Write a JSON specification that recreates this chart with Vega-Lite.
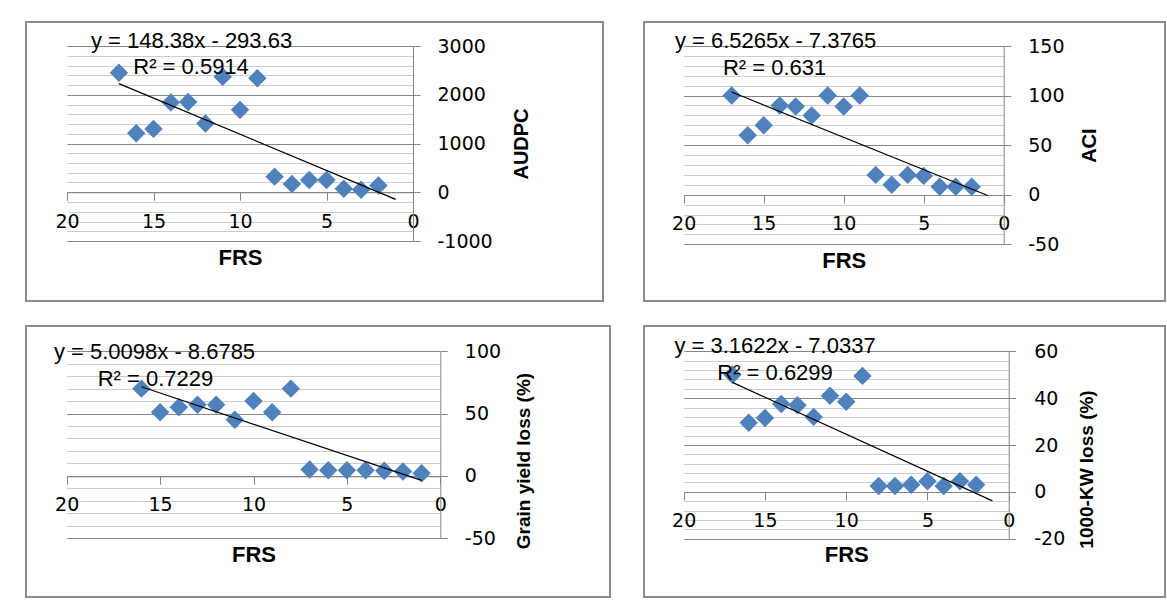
{
  "$schema": "https://vega.github.io/schema/vega-lite/v6.json",
  "padding": {"left": 25, "top": 21, "right": 0, "bottom": 0},
  "background": "white",
  "config": {
    "locale": {"number": {"decimal": ".", "thousands": ",", "grouping": [3], "currency": ["$", ""], "minus": "-"}},
    "view": {"stroke": null},
    "axis": {
      "domainColor": "#868686", "domainWidth": 1, "tickColor": "#868686", "tickWidth": 1,
      "labelFont": "DejaVu Sans", "labelFontSize": 19, "labelColor": "#000000",
      "titleFont": "Liberation Sans", "titleFontSize": 22, "titleFontWeight": "bold", "titleColor": "#000000",
      "labelFlush": false, "labelOverlap": false
    },
    "text": {"font": "Liberation Sans", "fontSize": 22, "color": "#000000"}
  },
  "datasets": {
    "audpc": [
      {"FRS": 17, "AUDPC": 2450}, {"FRS": 16, "AUDPC": 1210}, {"FRS": 15, "AUDPC": 1300}, {"FRS": 14, "AUDPC": 1840},
      {"FRS": 13, "AUDPC": 1850}, {"FRS": 12, "AUDPC": 1410}, {"FRS": 11, "AUDPC": 2370}, {"FRS": 10, "AUDPC": 1690},
      {"FRS": 9, "AUDPC": 2340}, {"FRS": 8, "AUDPC": 320}, {"FRS": 7, "AUDPC": 170}, {"FRS": 6, "AUDPC": 250},
      {"FRS": 5, "AUDPC": 250}, {"FRS": 4, "AUDPC": 70}, {"FRS": 3, "AUDPC": 50}, {"FRS": 2, "AUDPC": 140}
    ],
    "audpc_fit": [{"FRS": 17, "AUDPC": 2228.83}, {"FRS": 1, "AUDPC": -145.25}],
    "aci": [
      {"FRS": 17, "ACI": 100}, {"FRS": 16, "ACI": 60}, {"FRS": 15, "ACI": 70}, {"FRS": 14, "ACI": 90},
      {"FRS": 13, "ACI": 89}, {"FRS": 12, "ACI": 80}, {"FRS": 11, "ACI": 100}, {"FRS": 10, "ACI": 89},
      {"FRS": 9, "ACI": 100}, {"FRS": 8, "ACI": 20}, {"FRS": 7, "ACI": 10}, {"FRS": 6, "ACI": 20},
      {"FRS": 5, "ACI": 19}, {"FRS": 4, "ACI": 8}, {"FRS": 3, "ACI": 8}, {"FRS": 2, "ACI": 8}
    ],
    "aci_fit": [{"FRS": 17, "ACI": 103.57}, {"FRS": 1, "ACI": -0.85}],
    "gyl": [
      {"FRS": 16, "GrainYieldLoss": 70}, {"FRS": 15, "GrainYieldLoss": 51}, {"FRS": 14, "GrainYieldLoss": 55}, {"FRS": 13, "GrainYieldLoss": 57},
      {"FRS": 12, "GrainYieldLoss": 57}, {"FRS": 11, "GrainYieldLoss": 45}, {"FRS": 10, "GrainYieldLoss": 60}, {"FRS": 9, "GrainYieldLoss": 51},
      {"FRS": 8, "GrainYieldLoss": 70}, {"FRS": 7, "GrainYieldLoss": 5}, {"FRS": 6, "GrainYieldLoss": 4.5}, {"FRS": 5, "GrainYieldLoss": 4.5},
      {"FRS": 4, "GrainYieldLoss": 4.5}, {"FRS": 3, "GrainYieldLoss": 4}, {"FRS": 2, "GrainYieldLoss": 3.5}, {"FRS": 1, "GrainYieldLoss": 2}
    ],
    "gyl_fit": [{"FRS": 16, "GrainYieldLoss": 71.48}, {"FRS": 1, "GrainYieldLoss": -3.67}],
    "kwl": [
      {"FRS": 17, "KWLoss": 50}, {"FRS": 16, "KWLoss": 29.5}, {"FRS": 15, "KWLoss": 31.5}, {"FRS": 14, "KWLoss": 37.5},
      {"FRS": 13, "KWLoss": 37}, {"FRS": 12, "KWLoss": 32}, {"FRS": 11, "KWLoss": 41}, {"FRS": 10, "KWLoss": 38.5},
      {"FRS": 9, "KWLoss": 49.5}, {"FRS": 8, "KWLoss": 2.5}, {"FRS": 7, "KWLoss": 2.5}, {"FRS": 6, "KWLoss": 3},
      {"FRS": 5, "KWLoss": 4.5}, {"FRS": 4, "KWLoss": 2.5}, {"FRS": 3, "KWLoss": 4.5}, {"FRS": 2, "KWLoss": 3}
    ],
    "kwl_fit": [{"FRS": 17, "KWLoss": 46.72}, {"FRS": 1, "KWLoss": -3.87}]
  },
  "spacing": 23,
  "vconcat": [
    {
      "spacing": 39,
      "hconcat": [
        {
          "width": 577, "height": 279,
          "view": {"stroke": "#8c8c8c", "strokeWidth": 2},
          "resolve": {"axis": {"x": "independent", "y": "independent"}},
          "layer": [
            {
              "data": {"name": "audpc"},
              "mark": {"type": "point", "shape": "diamond", "filled": true, "size": 340, "color": "#4F81BD", "opacity": 1},
              "encoding": {
                "x": {"field": "FRS", "type": "quantitative",
                  "scale": {"domain": [0, 20], "range": [387, 41], "nice": false, "zero": false},
                  "axis": {"orient": "bottom", "offset": -108.75, "values": [0, 5, 10, 15, 20], "grid": false, "tickSize": 8, "labelPadding": 21, "labelBaseline": "middle", "title": "FRS", "titleY": 65, "titleBaseline": "middle"}},
                "y": {"field": "AUDPC", "type": "quantitative",
                  "scale": {"domain": [-1000, 3000], "range": [219, 24], "nice": false, "zero": false},
                  "axis": {"orient": "left", "grid": true, "gridColor": "#cccccc", "values": [-800, -600, -400, -200, 200, 400, 600, 800, 1200, 1400, 1600, 1800, 2200, 2400, 2600, 2800], "labels": false, "ticks": false, "domain": false, "title": null}}
              }
            },
            {
              "data": {"name": "audpc_fit"},
              "mark": {"type": "line", "color": "#000000", "strokeWidth": 1.2},
              "encoding": {
                "x": {"field": "FRS", "type": "quantitative", "scale": {"domain": [0, 20], "range": [387, 41], "nice": false, "zero": false}, "axis": null},
                "y": {"field": "AUDPC", "type": "quantitative", "scale": {"domain": [-1000, 3000], "range": [219, 24], "nice": false, "zero": false},
                  "axis": {"orient": "left", "grid": true, "gridColor": "#868686", "values": [-1000, 0, 1000, 2000, 3000], "labels": false, "ticks": false, "domain": false, "title": null}}
              }
            },
            {
              "data": {"values": [{}]},
              "mark": {"type": "text", "text": "y = 148.38x - 293.63"},
              "encoding": {
                "x": {"datum": 12.8, "type": "quantitative", "scale": {"domain": [0, 20], "range": [387, 41], "nice": false, "zero": false}, "axis": null},
                "y": {"datum": 3100, "type": "quantitative", "scale": {"domain": [-1000, 3000], "range": [219, 24], "nice": false, "zero": false},
                  "axis": {"orient": "right", "offset": -190, "values": [-1000, 0, 1000, 2000, 3000], "format": "d", "grid": false, "tickSize": 7, "labelPadding": 17, "title": "AUDPC", "titleFontSize": 20, "titleAngle": 270, "titleBaseline": "middle", "titleX": 108}}
              }
            },
            {
              "data": {"values": [{}]},
              "mark": {"type": "text", "text": "R² = 0.5914"},
              "encoding": {
                "x": {"datum": 12.83, "type": "quantitative", "scale": {"domain": [0, 20], "range": [387, 41], "nice": false, "zero": false}, "axis": null},
                "y": {"datum": 2560, "type": "quantitative", "scale": {"domain": [-1000, 3000], "range": [219, 24], "nice": false, "zero": false}, "axis": null}
              }
            }
          ]
        },
        {
          "width": 521, "height": 279,
          "view": {"stroke": "#8c8c8c", "strokeWidth": 2},
          "resolve": {"axis": {"x": "independent", "y": "independent"}},
          "layer": [
            {
              "data": {"name": "aci"},
              "mark": {"type": "point", "shape": "diamond", "filled": true, "size": 340, "color": "#4F81BD", "opacity": 1},
              "encoding": {
                "x": {"field": "FRS", "type": "quantitative",
                  "scale": {"domain": [0, 20], "range": [359.7, 39.7], "nice": false, "zero": false},
                  "axis": {"orient": "bottom", "offset": -106, "values": [0, 5, 10, 15, 20], "grid": false, "tickSize": 8, "labelPadding": 20, "labelBaseline": "middle", "title": "FRS", "titleY": 65, "titleBaseline": "middle"}},
                "y": {"field": "ACI", "type": "quantitative",
                  "scale": {"domain": [-50, 150], "range": [222.3, 24], "nice": false, "zero": false},
                  "axis": {"orient": "left", "grid": true, "gridColor": "#cccccc", "values": [-40, -30, -20, -10, 10, 20, 30, 40, 60, 70, 80, 90, 110, 120, 130, 140], "labels": false, "ticks": false, "domain": false, "title": null}}
              }
            },
            {
              "data": {"name": "aci_fit"},
              "mark": {"type": "line", "color": "#000000", "strokeWidth": 1.2},
              "encoding": {
                "x": {"field": "FRS", "type": "quantitative", "scale": {"domain": [0, 20], "range": [359.7, 39.7], "nice": false, "zero": false}, "axis": null},
                "y": {"field": "ACI", "type": "quantitative", "scale": {"domain": [-50, 150], "range": [222.3, 24], "nice": false, "zero": false},
                  "axis": {"orient": "left", "grid": true, "gridColor": "#868686", "values": [-50, 0, 50, 100, 150], "labels": false, "ticks": false, "domain": false, "title": null}}
              }
            },
            {
              "data": {"values": [{}]},
              "mark": {"type": "text", "text": "y = 6.5265x - 7.3765"},
              "encoding": {
                "x": {"datum": 14.26, "type": "quantitative", "scale": {"domain": [0, 20], "range": [359.7, 39.7], "nice": false, "zero": false}, "axis": null},
                "y": {"datum": 155, "type": "quantitative", "scale": {"domain": [-50, 150], "range": [222.3, 24], "nice": false, "zero": false},
                  "axis": {"orient": "right", "offset": -161.3, "values": [-50, 0, 50, 100, 150], "format": "d", "grid": false, "tickSize": 7, "labelPadding": 17, "title": "ACI", "titleFontSize": 20, "titleAngle": 270, "titleBaseline": "middle", "titleX": 86}}
              }
            },
            {
              "data": {"values": [{}]},
              "mark": {"type": "text", "text": "R² = 0.631"},
              "encoding": {
                "x": {"datum": 14.32, "type": "quantitative", "scale": {"domain": [0, 20], "range": [359.7, 39.7], "nice": false, "zero": false}, "axis": null},
                "y": {"datum": 127.5, "type": "quantitative", "scale": {"domain": [-50, 150], "range": [222.3, 24], "nice": false, "zero": false}, "axis": null}
              }
            }
          ]
        }
      ]
    },
    {
      "spacing": 32,
      "hconcat": [
        {
          "width": 584, "height": 271,
          "view": {"stroke": "#8c8c8c", "strokeWidth": 2},
          "resolve": {"axis": {"x": "independent", "y": "independent"}},
          "layer": [
            {
              "data": {"name": "gyl"},
              "mark": {"type": "point", "shape": "diamond", "filled": true, "size": 340, "color": "#4F81BD", "opacity": 1},
              "encoding": {
                "x": {"field": "FRS", "type": "quantitative",
                  "scale": {"domain": [0, 20], "range": [414.3, 40.7], "nice": false, "zero": false},
                  "axis": {"orient": "bottom", "offset": -120.7, "values": [0, 5, 10, 15, 20], "grid": false, "tickSize": 8, "labelPadding": 20, "labelBaseline": "middle", "title": "FRS", "titleY": 78.5, "titleBaseline": "middle"}},
                "y": {"field": "GrainYieldLoss", "type": "quantitative",
                  "scale": {"domain": [-50, 100], "range": [212, 25.3], "nice": false, "zero": false},
                  "axis": {"orient": "left", "grid": true, "gridColor": "#cccccc", "values": [-40, -30, -20, -10, 10, 20, 30, 40, 60, 70, 80, 90], "labels": false, "ticks": false, "domain": false, "title": null}}
              }
            },
            {
              "data": {"name": "gyl_fit"},
              "mark": {"type": "line", "color": "#000000", "strokeWidth": 1.2},
              "encoding": {
                "x": {"field": "FRS", "type": "quantitative", "scale": {"domain": [0, 20], "range": [414.3, 40.7], "nice": false, "zero": false}, "axis": null},
                "y": {"field": "GrainYieldLoss", "type": "quantitative", "scale": {"domain": [-50, 100], "range": [212, 25.3], "nice": false, "zero": false},
                  "axis": {"orient": "left", "grid": true, "gridColor": "#868686", "values": [-50, 0, 50, 100], "labels": false, "ticks": false, "domain": false, "title": null}}
              }
            },
            {
              "data": {"values": [{}]},
              "mark": {"type": "text", "text": "y = 5.0098x - 8.6785"},
              "encoding": {
                "x": {"datum": 15.3, "type": "quantitative", "scale": {"domain": [0, 20], "range": [414.3, 40.7], "nice": false, "zero": false}, "axis": null},
                "y": {"datum": 99.2, "type": "quantitative", "scale": {"domain": [-50, 100], "range": [212, 25.3], "nice": false, "zero": false},
                  "axis": {"orient": "right", "offset": -169.7, "values": [-50, 0, 50, 100], "format": "d", "grid": false, "tickSize": 7, "labelPadding": 17, "title": "Grain yield loss (%)", "titleFontSize": 19, "titleAngle": 270, "titleBaseline": "middle", "titleX": 83.5, "titleY": 134.5}}
              }
            },
            {
              "data": {"values": [{}]},
              "mark": {"type": "text", "text": "R² = 0.7229"},
              "encoding": {
                "x": {"datum": 15.25, "type": "quantitative", "scale": {"domain": [0, 20], "range": [414.3, 40.7], "nice": false, "zero": false}, "axis": null},
                "y": {"datum": 77.5, "type": "quantitative", "scale": {"domain": [-50, 100], "range": [212, 25.3], "nice": false, "zero": false}, "axis": null}
              }
            }
          ]
        },
        {
          "width": 521, "height": 271,
          "view": {"stroke": "#8c8c8c", "strokeWidth": 2},
          "resolve": {"axis": {"x": "independent", "y": "independent"}},
          "layer": [
            {
              "data": {"name": "kwl"},
              "mark": {"type": "point", "shape": "diamond", "filled": true, "size": 340, "color": "#4F81BD", "opacity": 1},
              "encoding": {
                "x": {"field": "FRS", "type": "quantitative",
                  "scale": {"domain": [0, 20], "range": [364.7, 39.7], "nice": false, "zero": false},
                  "axis": {"orient": "bottom", "offset": -105, "values": [0, 5, 10, 15, 20], "grid": false, "tickSize": 8, "labelPadding": 20, "labelBaseline": "middle", "title": "FRS", "titleY": 62.5, "titleBaseline": "middle"}},
                "y": {"field": "KWLoss", "type": "quantitative",
                  "scale": {"domain": [-20, 60], "range": [212.7, 25.3], "nice": false, "zero": false},
                  "axis": {"orient": "left", "grid": true, "gridColor": "#cccccc", "values": [-16, -12, -8, -4, 4, 8, 12, 16, 24, 28, 32, 36, 44, 48, 52, 56], "labels": false, "ticks": false, "domain": false, "title": null}}
              }
            },
            {
              "data": {"name": "kwl_fit"},
              "mark": {"type": "line", "color": "#000000", "strokeWidth": 1.2},
              "encoding": {
                "x": {"field": "FRS", "type": "quantitative", "scale": {"domain": [0, 20], "range": [364.7, 39.7], "nice": false, "zero": false}, "axis": null},
                "y": {"field": "KWLoss", "type": "quantitative", "scale": {"domain": [-20, 60], "range": [212.7, 25.3], "nice": false, "zero": false},
                  "axis": {"orient": "left", "grid": true, "gridColor": "#868686", "values": [-20, 0, 20, 40, 60], "labels": false, "ticks": false, "domain": false, "title": null}}
              }
            },
            {
              "data": {"values": [{}]},
              "mark": {"type": "text", "text": "y = 3.1622x - 7.0337"},
              "encoding": {
                "x": {"datum": 14.38, "type": "quantitative", "scale": {"domain": [0, 20], "range": [364.7, 39.7], "nice": false, "zero": false}, "axis": null},
                "y": {"datum": 62.4, "type": "quantitative", "scale": {"domain": [-20, 60], "range": [212.7, 25.3], "nice": false, "zero": false},
                  "axis": {"orient": "right", "offset": -156.3, "values": [-20, 0, 20, 40, 60], "format": "d", "grid": false, "tickSize": 7, "labelPadding": 18, "title": "1000-KW loss (%)", "titleFontSize": 19, "titleAngle": 270, "titleBaseline": "middle", "titleX": 78, "titleY": 143}}
              }
            },
            {
              "data": {"values": [{}]},
              "mark": {"type": "text", "text": "R² = 0.6299"},
              "encoding": {
                "x": {"datum": 14.38, "type": "quantitative", "scale": {"domain": [0, 20], "range": [364.7, 39.7], "nice": false, "zero": false}, "axis": null},
                "y": {"datum": 50.6, "type": "quantitative", "scale": {"domain": [-20, 60], "range": [212.7, 25.3], "nice": false, "zero": false}, "axis": null}
              }
            }
          ]
        }
      ]
    }
  ]
}
